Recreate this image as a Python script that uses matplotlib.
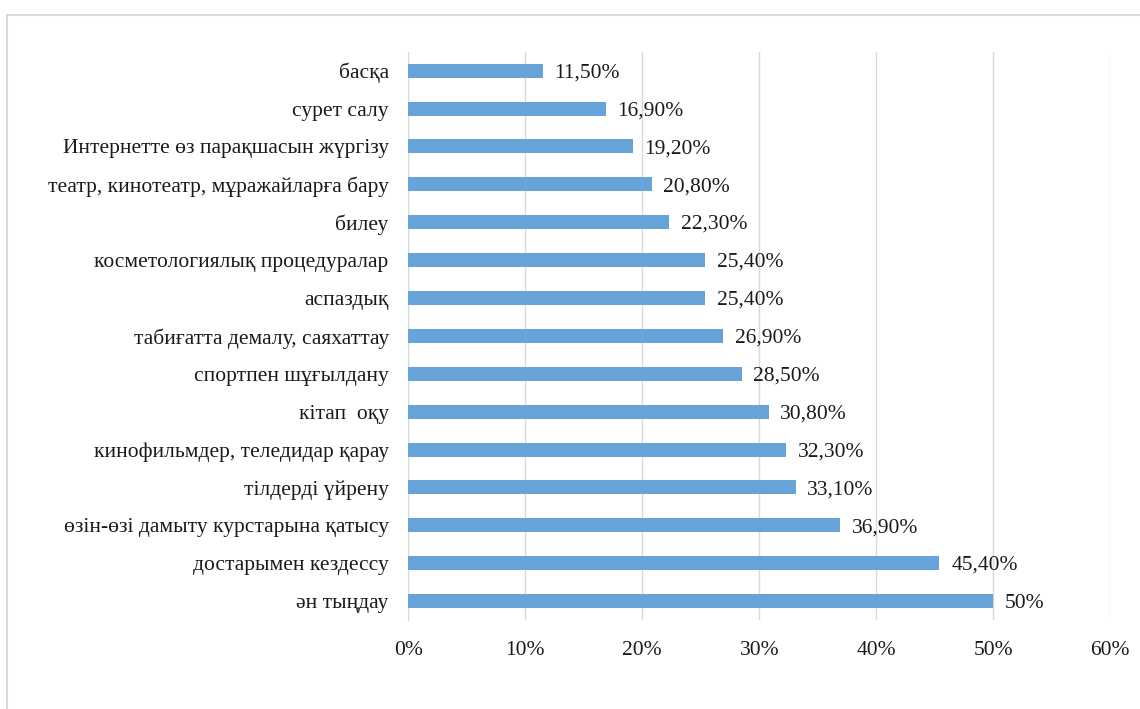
import matplotlib
matplotlib.use('Agg')
import matplotlib.pyplot as plt
from matplotlib.patches import Rectangle

# data, top to bottom as in the picture
categories = ['басқа', 'сурет салу', 'Интернетте өз парақшасын жүргізу',
              'театр, кинотеатр, мұражайларға бару', 'билеу',
              'косметологиялық процедуралар', 'аспаздық',
              'табиғатта демалу, саяхаттау', 'спортпен шұғылдану', 'кітап  оқу',
              'кинофильмдер, теледидар қарау', 'тілдерді үйрену',
              'өзін-өзі дамыту курстарына қатысу', 'достарымен кездессу', 'ән тыңдау']
values = [11.5, 16.9, 19.2, 20.8, 22.3, 25.4, 25.4, 26.9, 28.5, 30.8,
          32.3, 33.1, 36.9, 45.4, 50.0]
value_labels = ['11,50%', '16,90%', '19,20%', '20,80%', '22,30%', '25,40%', '25,40%',
                '26,90%', '28,50%', '30,80%', '32,30%', '33,10%', '36,90%', '45,40%', '50%']
xticks = [0, 10, 20, 30, 40, 50, 60]

plt.rcParams['font.family'] = ['Liberation Serif', 'DejaVu Serif']
fs = 15.5

fig = plt.figure(figsize=(11.4, 7.09), dpi=100)
ax = fig.add_axes([0.358, 0.1255, 0.616, 0.8015])

# outer frame of the chart
fig.patches.append(Rectangle((7/1140, -0.1), 1.2, 1 - 15/709 + 0.1, transform=fig.transFigure,
                             fill=False, edgecolor='#d9d9d9', linewidth=1.5))

pos = list(range(len(categories)))[::-1]
ax.barh(pos, values, height=0.37, color='#66a3d9', zorder=3)
for p, v, lab in zip(pos, values, value_labels):
    ax.text(v + 1.0, p - 0.06, lab, va='center', ha='left', fontsize=fs, color='#1a1a1a')

ax.set_xlim(0, 60)
ax.set_ylim(-0.5, len(categories) - 0.5)
ax.set_yticks(pos)
ax.set_yticklabels(categories, fontsize=fs, color='#1a1a1a')
ax.set_xticks(xticks)
ax.set_xticklabels([f'{t}%' for t in xticks], fontsize=fs, color='#1a1a1a')
ax.tick_params(axis='both', length=0)
ax.tick_params(axis='y', pad=14)
ax.tick_params(axis='x', pad=15)
ax.grid(axis='x', color='#d9d9d9', linewidth=1, zorder=0)
for s in ['top', 'right', 'bottom']:
    ax.spines[s].set_visible(False)
ax.spines['left'].set_color('#d9d9d9')

fig.savefig('out.png', dpi=100)
